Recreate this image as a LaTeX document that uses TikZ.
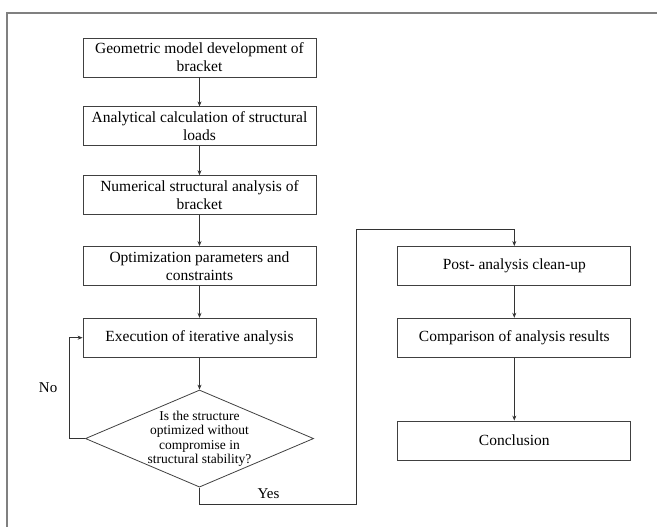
\documentclass[tikz,border=0pt]{standalone}
\usepackage{fontspec}
\setmainfont{Liberation Serif}
\usetikzlibrary{positioning, arrows.meta, shapes.geometric}

\begin{document}
\begin{tikzpicture}[
  x=1pt, y=1pt,
  node distance = 29pt and 81pt,
  stagebox/.style = {draw=black!75, line width=0.8pt, align=center, font=\fontsize{15.5}{18}\selectfont, minimum width=233pt, minimum height=39pt, inner sep=1pt},
  check/.style = {diamond, draw=black!75, line width=0.8pt, align=center, font=\fontsize{13.5}{14.5}\selectfont, aspect=2.35, inner sep=-1pt},
  link/.style = {-{Stealth[length=5pt, width=4pt]}, draw=black!80, line width=0.7pt},
  frame/.style = {draw=black!50, line width=1.6pt},
  tag/.style = {font=\fontsize{15}{18}\selectfont},
]
\useasboundingbox (0,0) rectangle (657,-527);
\draw[frame] (657,-13) -- (7,-13) -- (7,-527);
\node[stagebox] (a) at (199.5,-57.5) {Geometric model development of\\bracket};
\node[stagebox, below=of a] (b) {Analytical calculation of structural\\loads};
\node[stagebox, below=of b] (c) {Numerical structural analysis of\\bracket};
\node[stagebox, below=31pt of c] (d) {Optimization parameters and\\constraints};
\node[stagebox, below=32pt of d] (e) {Execution of iterative analysis};
\node[check, below=32pt of e] (f) {Is the structure\\optimized without\\compromise in\\structural stability?};
\node[stagebox, right=of d] (g) {Post- analysis clean-up};
\node[stagebox, below=32pt of g] (h) {Comparison of analysis results};
\node[stagebox, below=63pt of h] (i) {Conclusion};
\draw[link] (a) -- (b); \draw[link] (b) -- (c); \draw[link] (c) -- (d); \draw[link] (d) -- (e);
\draw[link] (e) -- (f);
\draw[link] (f.west) -- ++(-16,0) |- node[tag, pos=0.25, left=8pt] {No} (e.west);
\draw[link] (f.south) -- ++(0,-17) -| node[tag, pos=0.22, above=2pt] {Yes} ([xshift=-41pt, yshift=17pt]g.north west) -| (g.north);
\draw[link] (g) -- (h); \draw[link] (h) -- (i);
\end{tikzpicture}
\end{document}
